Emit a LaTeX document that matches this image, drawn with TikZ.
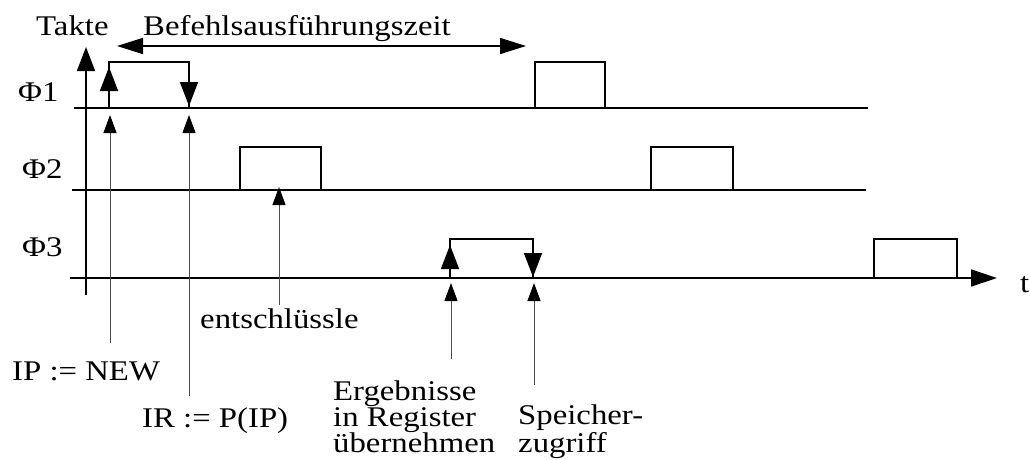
\documentclass[tikz,border=0pt]{standalone}
\usepackage{fontspec}
\setmainfont{Liberation Serif}[FakeStretch=1.15]
\usetikzlibrary{arrows.meta}

\tikzset{
  signal/.style={line width=1.6pt},
  edgearrow/.style={line width=1.6pt, -{Triangle[length=24pt, width=18pt]}},
  pointer/.style={line width=1pt, black!70, -{Triangle[length=18pt, width=13pt, color=black]}},
  lbl/.style={inner sep=0pt, anchor=base west, align=left, font=\fontsize{28.5}{26}\selectfont}
}

\begin{document}
\begin{tikzpicture}[x=1pt, y=-1pt]
  \useasboundingbox (0,0) rectangle (1030,459);

  % axes and clock lines
  \draw[edgearrow] (86,295) -- (86,47);
  \draw[signal] (74,108) -- (868,108);
  \draw[signal] (72,190) -- (866,190);
  \draw[edgearrow, -{Triangle[length=26pt, width=17pt]}] (70,278) -- (997,278);

  % clock pulses: left/right/top/base
  \foreach \a/\b/\t/\y in {109/189/62/108, 535/605/62/108,
                           240/321/147/190, 651/733/147/190,
                           450/533/239/278, 874/957/239/278}
    \draw[signal] (\a,\y) |- (\b,\t) -- (\b,\y);

  % active edges
  \draw[edgearrow] (109,108) -- (109,67);
  \draw[edgearrow] (189,62) -- (189,106);
  \draw[edgearrow] (450,278) -- (450,245);
  \draw[edgearrow] (533,239) -- (533,277);

  % execution time
  \coordinate (exstart) at (117,46);
  \coordinate (exend) at (526,46);
  \draw[line width=1.6pt, {Triangle[length=26pt, width=16pt]}-{Triangle[length=26pt, width=16pt]}] (exstart) -- (exend);

  % labels
  \node[lbl] (takte) at (36,35) {Takte};
  \node[lbl] (befehl) at (143,35) {Befehlsausführungszeit};
  \node[lbl] (phione) at (18,101) {Φ1};
  \node[lbl] (phitwo) at (22,178) {Φ2};
  \node[lbl] (phithree) at (22,256) {Φ3};
  \node[lbl] (tlbl) at (1020,292) {t};
  \node[lbl] (decode) at (200,328) {entschlüssle};
  \node[lbl] (ipnew) at (12,380) {IP := NEW};
  \node[lbl] (irload) at (142,427) {IR := P(IP)};
  \node[lbl] (regwrite) at (333,452) {Ergebnisse\\in Register\\übernehmen};
  \node[lbl] (memacc) at (518,452) {Speicher-\\zugriff};

  % pointers from the labels to the clock edges
  \coordinate (ipfoot) at (110,343);   \coordinate (iptip) at (110,115);
  \coordinate (irfoot) at (189,396);   \coordinate (irtip) at (189,115);
  \coordinate (decfoot) at (279,305);  \coordinate (dectip) at (279,187);
  \coordinate (regfoot) at (451,359);  \coordinate (regtip) at (451,283);
  \coordinate (memfoot) at (534,385);  \coordinate (memtip) at (534,283);
  \draw[pointer] (ipfoot) -- (iptip);
  \draw[pointer] (irfoot) -- (irtip);
  \draw[pointer] (decfoot) -- (dectip);
  \draw[pointer] (regfoot) -- (regtip);
  \draw[pointer] (memfoot) -- (memtip);
\end{tikzpicture}
\end{document}
